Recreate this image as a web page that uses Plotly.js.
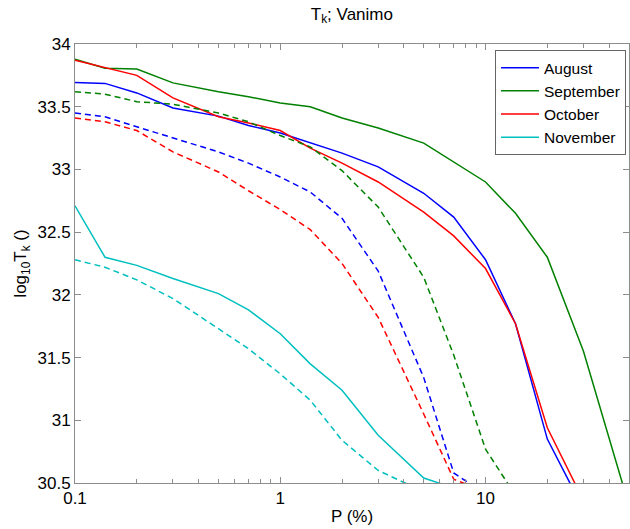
<!DOCTYPE html>
<html><head><meta charset="utf-8">
<script src="https://cdn.plot.ly/plotly-3.0.1.min.js"></script>
<style>html,body{margin:0;padding:0;background:#fff}#chart{width:630px;height:529px}</style>
</head><body><div id="chart"></div>
<script>
const P = [0.1,0.14,0.2,0.3,0.5,0.7,1,1.4,2,3,5,7,10,14,20,30,50];
const months = ['August','September','October','November'];
const colors = ['#0000ff','#008000','#ff0000','#00bfbf'];
const augSolid = [33.694,33.686,33.61,33.49,33.425,33.35,33.29,33.21,33.13,33.02,32.81,32.62,32.28,31.77,30.85,30.29,null];
const sepSolid = [33.878,33.806,33.80,33.69,33.62,33.58,33.53,33.50,33.41,33.33,33.21,33.06,32.90,32.65,32.30,31.55,30.32];
const octSolid = [33.87,33.81,33.75,33.57,33.42,33.37,33.31,33.17,33.05,32.90,32.66,32.47,32.21,31.77,30.94,30.36,null];
const novSolid = [32.71,32.30,32.235,32.13,32.01,31.88,31.69,31.45,31.24,30.88,30.54,30.46,null,null,null,null,null];
const augDashed = [33.45,33.42,33.34,33.25,33.14,33.05,32.94,32.82,32.61,32.19,31.34,30.58,30.41,null,null,null,null];
const sepDashed = [33.62,33.60,33.54,33.52,33.45,33.38,33.27,33.18,32.99,32.70,32.14,31.52,30.77,30.40,null,null,null];
const octDashed = [33.41,33.38,33.31,33.14,32.98,32.83,32.68,32.52,32.25,31.82,31.05,30.53,30.43,null,null,null,null];
const novDashed = [32.28,32.22,32.12,31.97,31.73,31.57,31.37,31.16,30.84,30.60,30.43,null,null,null,null,null,null];
const yTicks = [30.5,31,31.5,32,32.5,33,33.5,34];
const xTicks = [0.1,1,10];
const xTickText = ['0.1','1','10'];

const solids = [augSolid,sepSolid,octSolid,novSolid];
const dashed = [augDashed,sepDashed,octDashed,novDashed];
const traces = [];
solids.forEach((s,i)=>traces.push({x:P,y:s,type:'scatter',mode:'lines',name:months[i],
  line:{color:colors[i],width:1.5},showlegend:true,hoverinfo:'skip'}));
dashed.forEach((s,i)=>traces.push({x:P,y:s,type:'scatter',mode:'lines',name:months[i]+' (dashed)',
  line:{color:colors[i],width:1.5,dash:'6px,4px'},showlegend:false,hoverinfo:'skip'}));

const minorX = [];
[0.1,1,10].forEach(d=>{for(let k=2;k<=9;k++){const v=d*k; if(v<=50) minorX.push(v);}});

const font = {family:'Liberation Sans, Arial, sans-serif',size:17,color:'#000'};
const legFont = {family:'Liberation Sans, Arial, sans-serif',size:15.5,color:'#000'};
const axCol = '#8c8c8c';
const layout = {
  width:630,height:529,
  margin:{l:75,r:1,t:44,b:46},
  paper_bgcolor:'#fff',plot_bgcolor:'#fff',
  font:font,
  title:{text:'T<sub>k</sub>; Vanimo',x:0.5585,xanchor:'center',y:0.985,yanchor:'top',font:font},
  xaxis:{type:'log',range:[-1,Math.log10(50)],tickmode:'array',tickvals:xTicks,ticktext:xTickText,
    ticks:'inside',ticklen:6,tickcolor:axCol,showline:true,linecolor:axCol,linewidth:1,mirror:'ticks',
    showgrid:false,zeroline:false,tickfont:font,
    minor:{tickmode:'array',tickvals:minorX,ticks:'inside',ticklen:4,tickcolor:axCol,showgrid:false},
    title:{text:'P (%)',font:font,standoff:2}},
  yaxis:{range:[30.5,34],tickmode:'array',tickvals:yTicks,ticktext:yTicks.map(String),
    ticks:'inside',ticklen:6,tickcolor:axCol,showline:true,linecolor:axCol,linewidth:1,mirror:'ticks',
    showgrid:false,zeroline:false,tickfont:font,
    title:{text:'log<sub>10</sub>T<sub>k</sub> ()',font:font,standoff:6}},
  legend:{x:0.9946,xanchor:'right',y:0.986,yanchor:'top',bgcolor:'#fff',bordercolor:'#666',borderwidth:1,
    font:legFont,tracegroupgap:0,itemwidth:38},
  showlegend:true
};
Plotly.newPlot('chart',traces,layout,{staticPlot:true,displayModeBar:false});
</script></body></html>
